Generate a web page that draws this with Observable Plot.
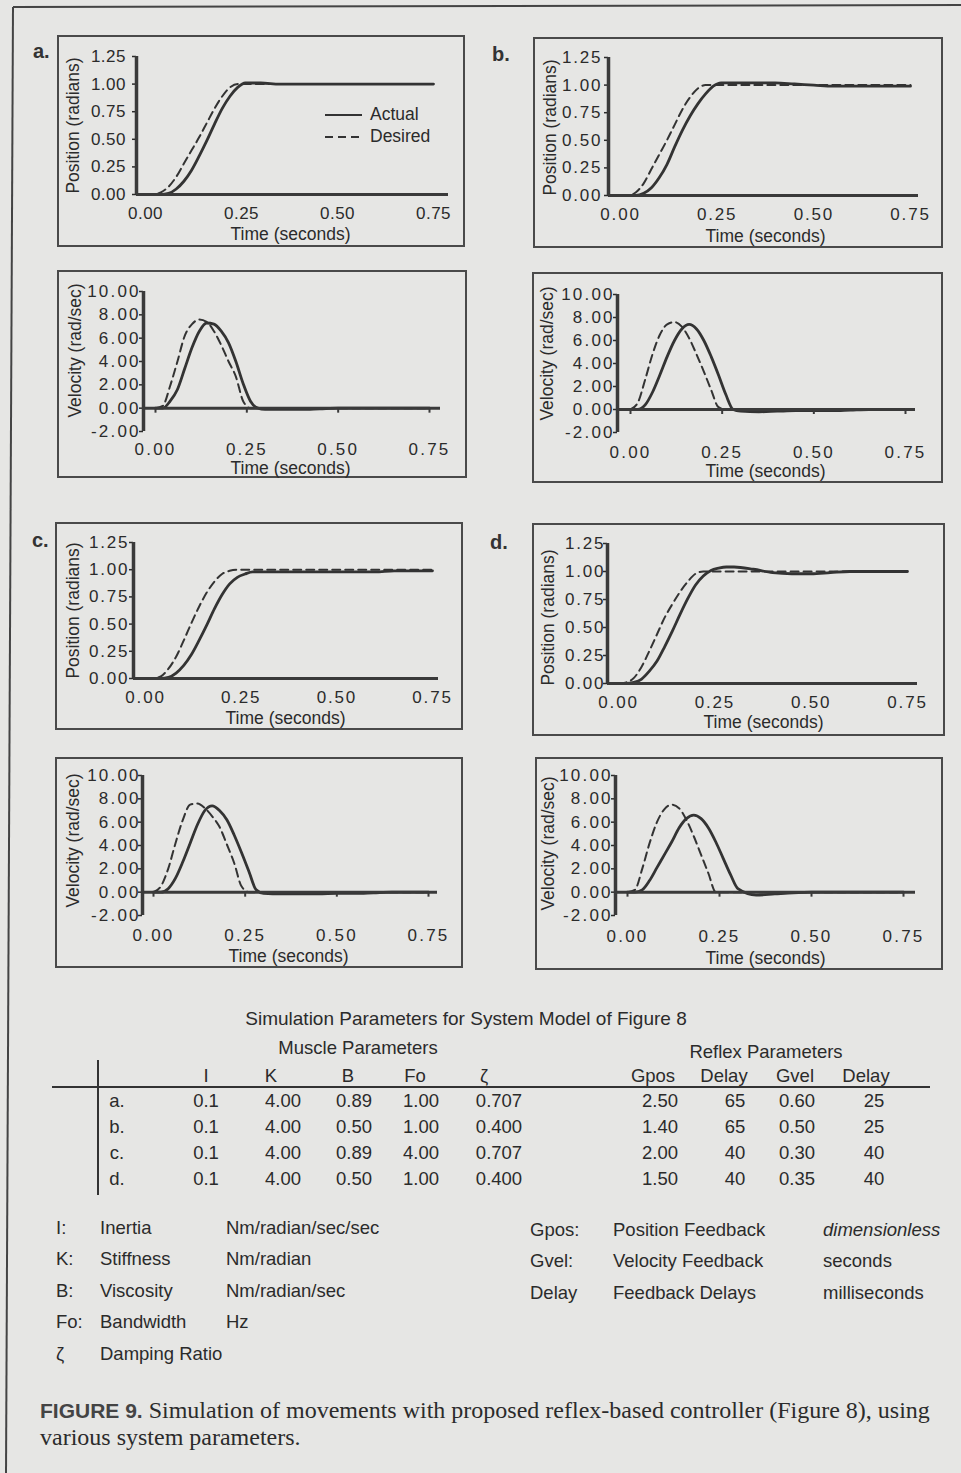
<!DOCTYPE html>
<html>
<head>
<meta charset="utf-8">
<script src="https://cdn.jsdelivr.net/npm/d3@7"></script>
<script src="https://cdn.jsdelivr.net/npm/@observablehq/plot@0.6"></script>
<style>
html,body{margin:0;padding:0;background:#e6e6e4;}
#page{position:relative;width:961px;height:1473px;overflow:hidden;font-family:"Liberation Sans",Arial,sans-serif;color:#2b2b2b;background:#e6e6e4;}
.abs{position:absolute;white-space:nowrap;line-height:1;}
.box{position:absolute;border:2px solid #4a4a4a;box-sizing:border-box;}
.hl{position:absolute;background:#333;}
</style>
</head>
<body>
<div id="page"></div>
<script>
// ---------- data ----------
const T = [0,0.02,0.04,0.06,0.08,0.10,0.12,0.14,0.16,0.18,0.20,0.22,0.24,0.26,0.28,0.30,0.35,0.40,0.45,0.50,0.55,0.60,0.65,0.70,0.75];
const xTicks = [0, 0.25, 0.5, 0.75];
const posTicks = [0, 0.25, 0.5, 0.75, 1.0, 1.25];
const velTicks = [-2, 0, 2, 4, 6, 8, 10];
const posDomain = [0, 1.25];
const velDomain = [-2, 10];

const posDesiredA = [0,0,0.02,0.07,0.16,0.28,0.40,0.52,0.65,0.78,0.89,0.97,1,1,1,1,1,1,1,1,1,1,1,1,1];
const posActualA  = [0,0,0,0.01,0.05,0.12,0.22,0.35,0.49,0.64,0.78,0.89,0.97,1.01,1.01,1.01,1,1,1,1,1,1,1,1,1];
const velDesiredA = [0,0.2,1.9,4.0,6.2,7.2,7.6,7.4,6.6,5.4,4.0,2.7,0.6,0,0,0,0,0,0,0,0,0,0,0,0];
const velActualA  = [0,0,0.6,1.6,3.4,5.2,6.6,7.3,7.2,6.6,5.6,4.0,2.1,0.6,0,-0.1,-0.1,-0.1,-0.05,0,0,0,0,0,0];

const posDesiredB = [0,0,0.03,0.11,0.24,0.37,0.50,0.64,0.78,0.89,0.97,1,1,1,1,1,1,1,1,1,1,1,1,1,1];
const posActualB  = [0,0,0,0.02,0.07,0.16,0.28,0.44,0.59,0.72,0.83,0.92,0.99,1.02,1.02,1.02,1.02,1.02,1.01,1.0,0.99,0.99,0.99,0.99,0.99];
const velDesiredB = [0,0.6,2.6,4.8,6.5,7.4,7.6,7.2,6.2,4.8,3.3,1.7,0.2,0,0,0,0,0,0,0,0,0,0,0,0];
const velActualB  = [0,0,0.4,1.5,3.0,4.6,6.0,7.0,7.4,7.0,6.0,4.6,3.0,1.3,0,-0.15,-0.2,-0.15,-0.1,-0.1,-0.1,-0.05,0,0,0];

const posDesiredC = [0,0,0.02,0.09,0.20,0.35,0.51,0.66,0.79,0.89,0.96,0.99,1,1,1,1,1,1,1,1,1,1,1,1,1];
const posActualC  = [0,0,0,0.01,0.05,0.12,0.22,0.35,0.49,0.64,0.77,0.87,0.93,0.96,0.98,0.98,0.98,0.98,0.98,0.98,0.98,0.98,0.99,0.99,0.99];
const velDesiredC = [0,0.5,2.0,4.2,6.2,7.5,7.6,7.2,6.5,5.6,4.1,2.5,0.5,0,0,0,0,0,0,0,0,0,0,0,0];
const velActualC  = [0,0,0.3,1.2,2.6,4.2,5.8,7.0,7.4,7.0,6.2,4.9,3.4,1.8,0.2,-0.1,-0.15,-0.15,-0.15,-0.1,-0.1,-0.05,0,0,0];

const posDesiredD = [0,0.01,0.05,0.15,0.29,0.44,0.59,0.71,0.82,0.91,0.98,1,1,1,1,1,1,1,1,1,1,1,1,1,1];
const posActualD  = [0,0,0.01,0.04,0.11,0.20,0.33,0.47,0.62,0.76,0.88,0.96,1.01,1.03,1.04,1.04,1.02,0.99,0.98,0.98,0.99,1,1,1,1];
const velDesiredD = [0,0.2,2.0,4.2,6.0,7.1,7.5,7.2,6.2,4.8,3.2,1.6,0,0,0,0,0,0,0,0,0,0,0,0,0];
const velActualD  = [0,0,0.2,1.0,2.1,3.2,4.3,5.5,6.3,6.6,6.3,5.5,4.3,2.9,1.5,0.3,-0.25,-0.15,-0.05,0,0,0,0,0,0];

const panelLetters = ["a.", "b.", "c.", "d."];
const legendLabels = ["Actual", "Desired"];

// table
const tableTitle = "Simulation Parameters for System Model of Figure 8";
const groupTitles = ["Muscle Parameters", "Reflex Parameters"];
const headers = ["I", "K", "B", "Fo", "ζ", "Gpos", "Delay", "Gvel", "Delay"];
const rowLabels = ["a.", "b.", "c.", "d."];
const inertia   = ["0.1", "0.1", "0.1", "0.1"];
const stiffness = ["4.00", "4.00", "4.00", "4.00"];
const viscosity = ["0.89", "0.50", "0.89", "0.50"];
const bandwidth = ["1.00", "1.00", "4.00", "1.00"];
const damping   = ["0.707", "0.400", "0.707", "0.400"];
const gpos      = ["2.50", "1.40", "2.00", "1.50"];
const posDelay  = ["65", "65", "40", "40"];
const gvel      = ["0.60", "0.50", "0.30", "0.35"];
const velDelay  = ["25", "25", "40", "40"];

const defSymbolsL = ["I:", "K:", "B:", "Fo:", "ζ"];
const defNamesL   = ["Inertia", "Stiffness", "Viscosity", "Bandwidth", "Damping Ratio"];
const defUnitsL   = ["Nm/radian/sec/sec", "Nm/radian", "Nm/radian/sec", "Hz", ""];
const defSymbolsR = ["Gpos:", "Gvel:", "Delay"];
const defNamesR   = ["Position Feedback", "Velocity Feedback", "Feedback Delays"];
const defUnitsR   = ["dimensionless", "seconds", "milliseconds"];

// ---------- helpers ----------
const page = document.getElementById("page");
function put(text, x, y, o = {}) {
  const d = document.createElement("div");
  d.className = "abs";
  d.textContent = text;
  d.style.left = x + "px";
  d.style.top = y + "px";
  const ax = o.anchor === "middle" ? "-50%" : o.anchor === "end" ? "-100%" : "0";
  d.style.transform = `translate(${ax},-50%)`;
  d.style.fontSize = (o.size || 18) + "px";
  if (o.family) d.style.fontFamily = o.family;
  if (o.weight) d.style.fontWeight = o.weight;
  if (o.italic) d.style.fontStyle = "italic";
  if (o.color) d.style.color = o.color;
  page.appendChild(d);
  return d;
}
function hline(x1, x2, y, w = 2) {
  const d = document.createElement("div");
  d.className = "hl";
  Object.assign(d.style, {left: x1 + "px", top: (y - w / 2) + "px", width: (x2 - x1) + "px", height: w + "px"});
  page.appendChild(d);
}
function vline(x, y1, y2, w = 2) {
  const d = document.createElement("div");
  d.className = "hl";
  Object.assign(d.style, {left: (x - w / 2) + "px", top: y1 + "px", width: w + "px", height: (y2 - y1) + "px"});
  page.appendChild(d);
}
const fmt = d => d.toFixed(2);

// ---------- panels ----------
const panels = [
  {box:[57,35,465,247], yAxisX:136, x0:145, x75:433, axisEnd:448, yTop:56, yBot:194, kind:"pos", xLabelY:212, titleX:290, titleY:234, ylabX:73, ylabY:125, gap:11, ls:0.5, des:posDesiredA, act:posActualA},
  {box:[57,270,467,478], yAxisX:143, x0:155, x75:429, axisEnd:440, yTop:291, yBot:431, kind:"vel", xLabelY:448, titleX:290, titleY:468, ylabX:75, ylabY:350, gap:5, ls:2.2, des:velDesiredA, act:velActualA},
  {box:[533,37,943,248], yAxisX:608, x0:620, x75:910, axisEnd:918, yTop:57, yBot:195, kind:"pos", xLabelY:213, titleX:765, titleY:236, ylabX:550, ylabY:127, gap:8, ls:1.8, des:posDesiredB, act:posActualB},
  {box:[532,272,943,483], yAxisX:617, x0:630, x75:905, axisEnd:915, yTop:294, yBot:432, kind:"vel", xLabelY:451, titleX:765, titleY:471, ylabX:547, ylabY:353, gap:5, ls:2.2, des:velDesiredB, act:velActualB},
  {box:[55,522,463,730], yAxisX:133, x0:145, x75:432, axisEnd:438, yTop:542, yBot:678, kind:"pos", xLabelY:696, titleX:285, titleY:718, ylabX:73, ylabY:610, gap:6, ls:1.8, des:posDesiredC, act:posActualC},
  {box:[55,757,463,968], yAxisX:142, x0:153, x75:428, axisEnd:437, yTop:775, yBot:915, kind:"vel", xLabelY:934, titleX:288, titleY:956, ylabX:73, ylabY:840, gap:4, ls:2.2, des:velDesiredC, act:velActualC},
  {box:[532,523,945,736], yAxisX:607, x0:618, x75:907, axisEnd:917, yTop:543, yBot:683, kind:"pos", xLabelY:701, titleX:763, titleY:722, ylabX:548, ylabY:617, gap:4, ls:1.8, des:posDesiredD, act:posActualD},
  {box:[535,757,943,970], yAxisX:615, x0:627, x75:903, axisEnd:915, yTop:775, yBot:915, kind:"vel", xLabelY:935, titleX:765, titleY:958, ylabX:548, ylabY:843, gap:5, ls:2.2, des:velDesiredD, act:velActualD}
];

const ink = "#333";
for (const c of panels) {
  const [L, Tp, R, B] = c.box;
  const W = R - L, H = B - Tp;
  const box = document.createElement("div");
  box.className = "box";
  Object.assign(box.style, {left: L + "px", top: Tp + "px", width: W + "px", height: H + "px"});
  page.appendChild(box);

  const ppu = (c.x75 - c.x0) / 0.75;
  const xDomain = [(c.yAxisX - c.x0) / ppu, (c.axisEnd - c.x0) / ppu];
  const isVel = c.kind === "vel";
  const yDomain = isVel ? velDomain : posDomain;
  const yTicks = isVel ? velTicks : posTicks;
  const rows = T.map((t, i) => ({t, des: c.des[i], act: c.act[i]}));
  const fs = 17;
  const tickSize = 4;
  const frameMidX = (c.yAxisX + c.axisEnd) / 2;
  const frameMidY = (c.yTop + c.yBot) / 2;
  const marks = [
    Plot.axisY({ticks: yTicks, tickSize, tickPadding: c.gap - tickSize - c.ls, tickFormat: fmt, fontSize: fs, label: null, strokeWidth: 1.5}),
    Plot.axisX({ticks: xTicks, tickSize: 0, tickPadding: c.xLabelY - c.yBot - 0.35 * fs, tickFormat: fmt, fontSize: fs, label: null}),
    Plot.line(rows, {x: "t", y: "des", stroke: ink, strokeWidth: 2, strokeDasharray: "8,5", curve: "monotone-x"}),
    Plot.line(rows, {x: "t", y: "act", stroke: ink, strokeWidth: 2.8, curve: "monotone-x"}),
    Plot.ruleY([0], {stroke: "#3a3a3a", strokeWidth: 3}),
    Plot.ruleX([xDomain[0]], {stroke: "#3a3a3a", strokeWidth: 3.5}),
    Plot.text(["Time (seconds)"], {text: d => d, frameAnchor: "bottom", dx: c.titleX - frameMidX, dy: c.titleY - c.yBot, lineAnchor: "middle", fontSize: 17.5}),
    Plot.text([isVel ? "Velocity (rad/sec)" : "Position (radians)"], {text: d => d, frameAnchor: "left", rotate: -90, textAnchor: "middle", lineAnchor: "middle", dx: c.ylabX - c.yAxisX, dy: c.ylabY - frameMidY, fontSize: 17.5})
  ];
  if (isVel) marks.push(Plot.ruleX(xTicks, {y1: 0, y2: 0, insetBottom: -5, stroke: "#3a3a3a", strokeWidth: 2}));
  const svg = Plot.plot({
    width: W, height: H,
    marginLeft: c.yAxisX - L, marginRight: R - c.axisEnd,
    marginTop: c.yTop - Tp, marginBottom: B - c.yBot,
    x: {domain: xDomain, label: null},
    y: {domain: yDomain, label: null},
    style: {background: "transparent", color: "#2b2b2b", fontFamily: "'Liberation Sans', Arial, sans-serif", overflow: "visible"},
    marks
  });
  d3.select(svg).selectAll('g[aria-label*="tick label"] text').style("letter-spacing", c.ls + "px");
  const wrap = document.createElement("div");
  Object.assign(wrap.style, {position: "absolute", left: L + "px", top: Tp + "px", width: W + "px", height: H + "px"});
  wrap.appendChild(svg);
  page.appendChild(wrap);
}

// panel letters
const letterPos = [[33, 51], [492, 54], [32, 540], [490, 542]];
panelLetters.forEach((s, i) => put(s, letterPos[i][0], letterPos[i][1], {size: 20, weight: "bold", color: "#333"}));

// legend in panel a
{
  const lg = document.createElementNS("http://www.w3.org/2000/svg", "svg");
  lg.setAttribute("width", 40); lg.setAttribute("height", 40);
  Object.assign(lg.style, {position: "absolute", left: "324px", top: "104px"});
  lg.innerHTML = `<line x1="1" x2="38" y1="11" y2="11" stroke="${ink}" stroke-width="2"/>
  <line x1="1" x2="38" y1="33" y2="33" stroke="${ink}" stroke-width="2" stroke-dasharray="8,5"/>`;
  page.appendChild(lg);
  put(legendLabels[0], 370, 115, {size: 17.5});
  put(legendLabels[1], 370, 137, {size: 17.5});
}

// outer frame (scan border)
{
  const fr = document.createElementNS("http://www.w3.org/2000/svg", "svg");
  fr.setAttribute("width", 961); fr.setAttribute("height", 1473);
  Object.assign(fr.style, {position: "absolute", left: 0, top: 0, pointerEvents: "none"});
  fr.innerHTML = `<line x1="13" y1="7" x2="6" y2="1473" stroke="#444" stroke-width="2"/>
  <line x1="13" y1="7" x2="961" y2="5" stroke="#444" stroke-width="2"/>`;
  page.appendChild(fr);
}

// ---------- table ----------
const tf = "'Liberation Sans Narrow','Liberation Sans',Arial,sans-serif";
put(tableTitle, 466, 1018, {anchor: "middle", size: 19, family: tf});
put(groupTitles[0], 358, 1048, {anchor: "middle", size: 18.5, family: tf});
put(groupTitles[1], 766, 1052, {anchor: "middle", size: 18.5, family: tf});
const headerX = [206, 271, 348, 415, 484, 653, 724, 795, 866];
headers.forEach((h, i) => put(h, headerX[i], 1076, {anchor: "middle", size: 18.5, family: tf}));
hline(52, 930, 1087, 2);
vline(98, 1060, 1195, 2);
const rowY = [1101, 1127, 1153, 1179];
const cols = [rowLabels, inertia, stiffness, viscosity, bandwidth, damping, gpos, posDelay, gvel, velDelay];
const colX = [117, 206, 283, 354, 421, 499, 660, 735, 797, 874];
cols.forEach((col, j) => col.forEach((v, i) => put(v, colX[j], rowY[i], {anchor: "middle", size: 18.5, family: tf})));

// definitions
const defYL = [1228, 1259, 1291, 1322, 1354];
defSymbolsL.forEach((s, i) => {
  put(s, 56, defYL[i], {size: 18.5, family: tf});
  put(defNamesL[i], 100, defYL[i], {size: 18.5, family: tf});
  if (defUnitsL[i]) put(defUnitsL[i], 226, defYL[i], {size: 18.5, family: tf});
});
const defYR = [1230, 1261, 1293];
defSymbolsR.forEach((s, i) => {
  put(s, 530, defYR[i], {size: 18.5, family: tf});
  put(defNamesR[i], 613, defYR[i], {size: 18.5, family: tf});
  put(defUnitsR[i], 823, defYR[i], {size: 18.5, family: tf, italic: i === 0});
});

// caption
{
  const cap = document.createElement("div");
  Object.assign(cap.style, {position: "absolute", left: "40px", top: "1397px", fontFamily: "'Liberation Serif','Times New Roman',serif", fontSize: "24px", lineHeight: "26px", color: "#2b2b2b", whiteSpace: "nowrap"});
  const b = document.createElement("span");
  b.textContent = "FIGURE 9.";
  Object.assign(b.style, {fontFamily: "'Liberation Sans',Arial,sans-serif", fontWeight: "bold", fontSize: "21px", color: "#444"});
  cap.appendChild(b);
  cap.appendChild(document.createTextNode(" Simulation of movements with proposed reflex-based controller (Figure 8), using"));
  cap.appendChild(document.createElement("br"));
  cap.appendChild(document.createTextNode("various system parameters."));
  page.appendChild(cap);
}
</script>
</body>
</html>
